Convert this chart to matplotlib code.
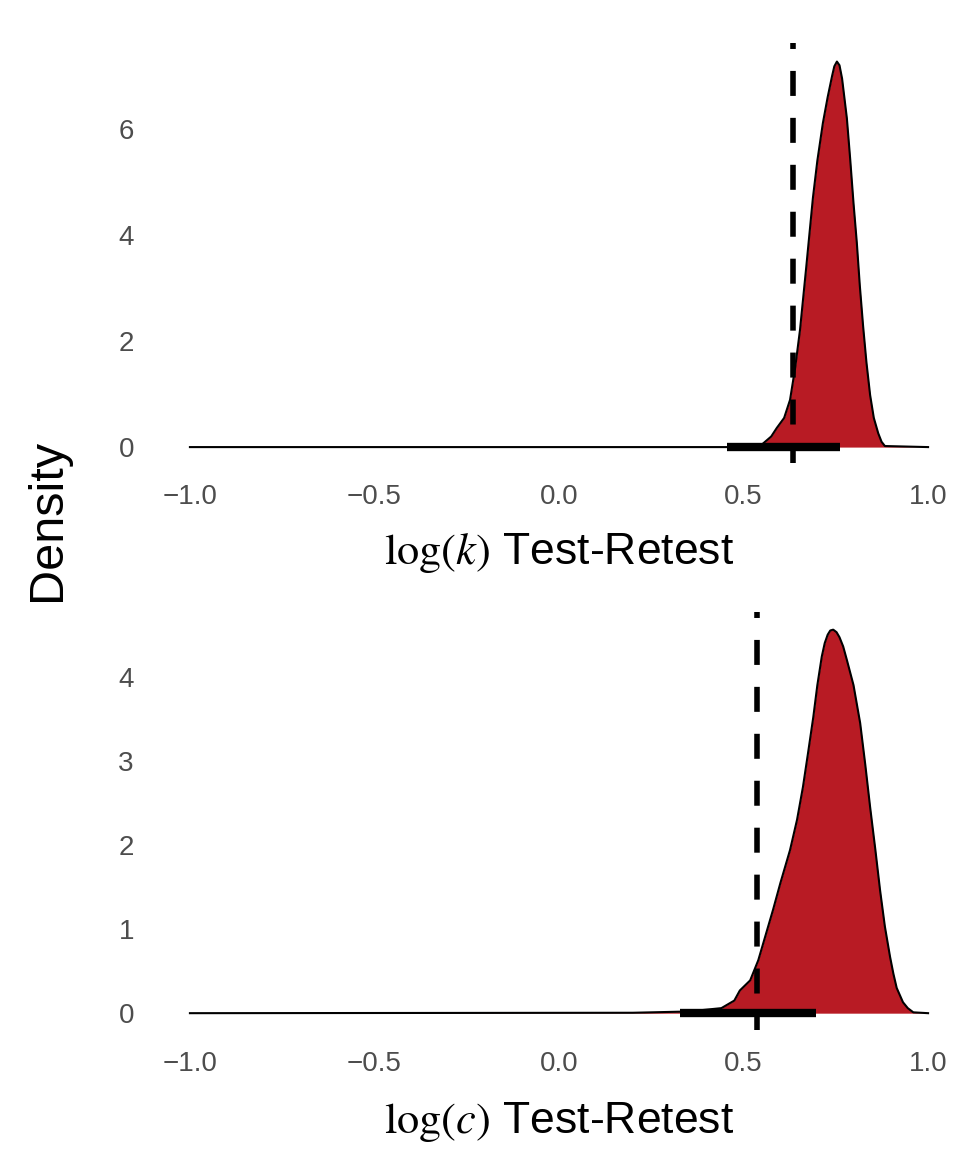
import numpy as np
import matplotlib
matplotlib.use('Agg')
import matplotlib.pyplot as plt

plt.rcParams['font.family'] = ['Liberation Sans', 'DejaVu Sans']
plt.rcParams['mathtext.fontset'] = 'stix'
plt.rcParams['lines.scale_dashes'] = False

# posterior density of test-retest for log(k)
k_x = [-1.0, 0.50, 0.545, 0.575, 0.59, 0.61, 0.626, 0.64, 0.653, 0.67, 0.688, 0.70,
       0.715, 0.728, 0.74, 0.746, 0.753, 0.76, 0.767, 0.78, 0.789, 0.798, 0.807,
       0.815, 0.824, 0.833, 0.843, 0.853, 0.865, 0.874, 0.883, 1.0]
k_y = [0.0, 0.0, 0.02, 0.2, 0.36, 0.55, 0.89, 1.5, 2.21, 3.4, 4.7, 5.4,
       6.11, 6.6, 7.0, 7.18, 7.27, 7.2, 6.95, 6.2, 5.43, 4.6, 3.85,
       3.05, 2.28, 1.6, 0.98, 0.55, 0.26, 0.1, 0.02, 0.0]
k_obs = 0.634
k_ci = [0.455, 0.762]

# posterior density of test-retest for log(c)
c_x = [-1.0, 0.2, 0.35, 0.44, 0.475, 0.49, 0.518, 0.54, 0.56, 0.58, 0.60, 0.626,
       0.645, 0.661, 0.675, 0.689, 0.70, 0.712, 0.72, 0.728, 0.735, 0.743, 0.752,
       0.76, 0.77, 0.78, 0.798, 0.816, 0.83, 0.843, 0.857, 0.87, 0.883, 0.897,
       0.906, 0.915, 0.932, 0.945, 0.96, 1.0]
c_y = [0.0, 0.005, 0.02, 0.06, 0.15, 0.27, 0.39, 0.63, 0.93, 1.23, 1.55, 1.94,
       2.3, 2.69, 3.1, 3.52, 3.9, 4.24, 4.4, 4.5, 4.55, 4.56, 4.53,
       4.47, 4.36, 4.2, 3.9, 3.45, 2.95, 2.45, 1.95, 1.46, 1.03, 0.67,
       0.47, 0.3, 0.13, 0.06, 0.01, 0.0]
c_obs = 0.537
c_ci = [0.328, 0.697]

fill_col = '#B81B24'
W, H = 963, 1151

fig = plt.figure(figsize=(W / 100, H / 100), dpi=100)

def make_panel(rect, xs, ys, obs, ci, ylim, yticks, xlab, xlab_y):
    ax = fig.add_axes(rect)
    ax.fill_between(xs, ys, 0, color=fill_col, lw=0)
    ax.plot(xs, ys, color='black', lw=1.5, solid_joinstyle='round')
    ax.plot(ci, [0, 0], color='black', lw=6, solid_capstyle='butt')
    ax.plot([obs, obs], [ylim[1], ylim[0]], color='black', lw=4.0,
            linestyle=(13.7, (18, 15.8)))
    ax.set_xlim(-1.054, 1.054)
    ax.set_ylim(*ylim)
    ax.set_xticks([-1.0, -0.5, 0.0, 0.5, 1.0])
    ax.set_xticklabels(['\u22121.0', '\u22120.5', '0.0', '0.5', '1.0'])
    ax.set_yticks(yticks)
    ax.tick_params(length=0, labelsize=20, labelcolor='#4D4D4D')
    ax.tick_params(axis='y', pad=26)
    ax.tick_params(axis='x', pad=15)
    for s in ax.spines.values():
        s.set_visible(False)
    fig.text(559 / W, 1 - xlab_y / H, xlab, ha='center', va='center', fontsize=32)
    return ax

left = 170 / W
width = 778 / W
make_panel([left, 1 - 463 / H, width, 420 / H], k_x, k_y, k_obs, k_ci,
           (-0.3, 7.62), [0, 2, 4, 6], r'$\log(k)$ Test-Retest', 553)
make_panel([left, 1 - 1030 / H, width, 418 / H], c_x, c_y, c_obs, c_ci,
           (-0.2, 4.77), [0, 1, 2, 3, 4], r'$\log(c)$ Test-Retest', 1122)

fig.text(47 / W, 1 - 520 / H, 'Density', rotation=90, ha='center', va='center', fontsize=35)

fig.savefig('out.png', dpi=100)
